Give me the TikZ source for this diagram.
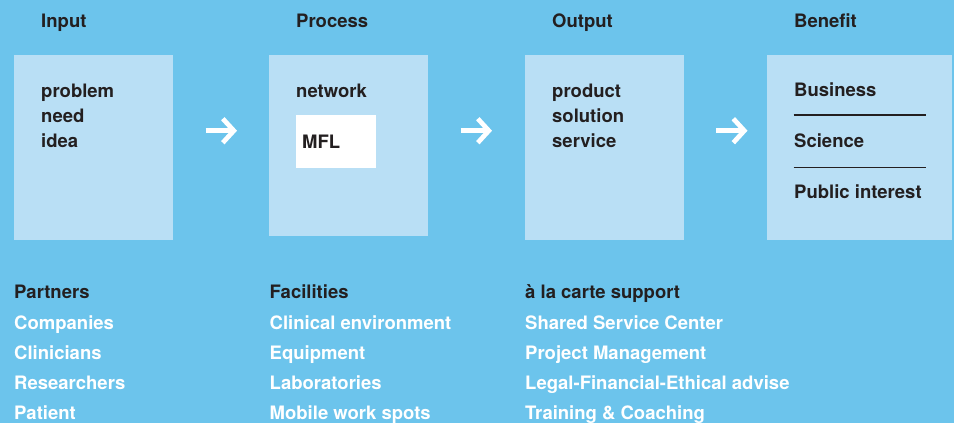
\documentclass[tikz,border=0pt]{standalone}
\usepackage{fontspec}
\setmainfont{TeX Gyre Heros}
\usetikzlibrary{arrows.meta}
\definecolor{bg}{RGB}{108,196,236}
\definecolor{boxc}{RGB}{185,223,245}
\definecolor{ink}{RGB}{35,31,32}
\begin{document}
\begin{tikzpicture}[x=1bp,y=-1bp,
  panel/.style={fill=boxc, draw=none, inner sep=0, minimum width=159bp, minimum height=185bp, anchor=north west},
  txt/.style={anchor=base west, inner sep=0, font=\fontsize{18.5bp}{25bp}\selectfont\bfseries, text=ink},
  wtxt/.style={txt, text=white},
  arr/.style={draw=white, line width=4.7bp, -{Straight Barb[length=11bp,width=24bp]}},
  rulestyle/.style={draw=ink, line width=1.7bp}]
\useasboundingbox (0,0) rectangle (954,423);
\fill[bg] (0,0) rectangle (954,423);
% panels
\node[panel] (inbox) at (14,55) {};
\node[panel, minimum height=181bp] (procbox) at (269,55) {};
\node[panel] (outbox) at (525,55) {};
\node[panel, minimum width=185bp] (benbox) at (767,55) {};
\node[fill=white, inner sep=0, minimum width=80bp, minimum height=53bp, anchor=north west] (mflbox) at (296,115) {};
% headers
\node[txt] (hin) at (41,27.3) {Input};
\node[txt] (hproc) at (296,27.3) {Process};
\node[txt] (hout) at (552,27.3) {Output};
\node[txt] (hben) at (794,27.3) {Benefit};
% box contents
\node[txt] (t1) at (41,97) {problem};
\node[txt] (t2) at (41,122) {need};
\node[txt] (t3) at (41,147) {idea};
\node[txt] (t4) at (296,97) {network};
\node[txt] (mfl) at (302,148) {MFL};
\node[txt] (t5) at (552,97) {product};
\node[txt] (t6) at (552,122) {solution};
\node[txt] (t7) at (552,147) {service};
\node[txt] (b1) at (794,96.5) {Business};
\node[txt] (b2) at (794,147.5) {Science};
\node[txt] (b3) at (794,198.5) {Public interest};
\coordinate (r1s) at (793.5,114.8);
\coordinate (r1e) at (925.7,114.8);
\coordinate (r2s) at (793.5,167.6);
\coordinate (r2e) at (925.7,167.6);
\draw[rulestyle] (r1s) -- (r1e);
\draw[rulestyle] (r2s) -- (r2e);
% arrows
\coordinate (a1s) at (205.5,130.7);
\coordinate (a1e) at (237,130.7);
\coordinate (a2s) at (460.5,130.7);
\coordinate (a2e) at (492,130.7);
\coordinate (a3s) at (716,130.7);
\coordinate (a3e) at (747.5,130.7);
\draw[arr] (a1s) -- (a1e);
\draw[arr] (a2s) -- (a2e);
\draw[arr] (a3s) -- (a3e);
% bottom lists
\node[txt] (p0) at (14,298.5) {Partners};
\node[wtxt] (p1) at (14,329) {Companies};
\node[wtxt] (p2) at (14,359) {Clinicians};
\node[wtxt] (p3) at (14,389.3) {Researchers};
\node[wtxt] (p4) at (14,419.8) {Patient};
\node[txt] (f0) at (269.5,298.5) {Facilities};
\node[wtxt] (f1) at (269.5,329) {Clinical environment};
\node[wtxt] (f2) at (269.5,359) {Equipment};
\node[wtxt] (f3) at (269.5,389.3) {Laboratories};
\node[wtxt] (f4) at (269.5,419.8) {Mobile work spots};
\node[txt] (s0) at (525,298.5) {à la carte support};
\node[wtxt] (s1) at (525,329) {Shared Service Center};
\node[wtxt] (s2) at (525,359) {Project Management};
\node[wtxt] (s3) at (525,389.3) {Legal-Financial-Ethical advise};
\node[wtxt] (s4) at (525,419.8) {Training \& Coaching};
\end{tikzpicture}
\end{document}
